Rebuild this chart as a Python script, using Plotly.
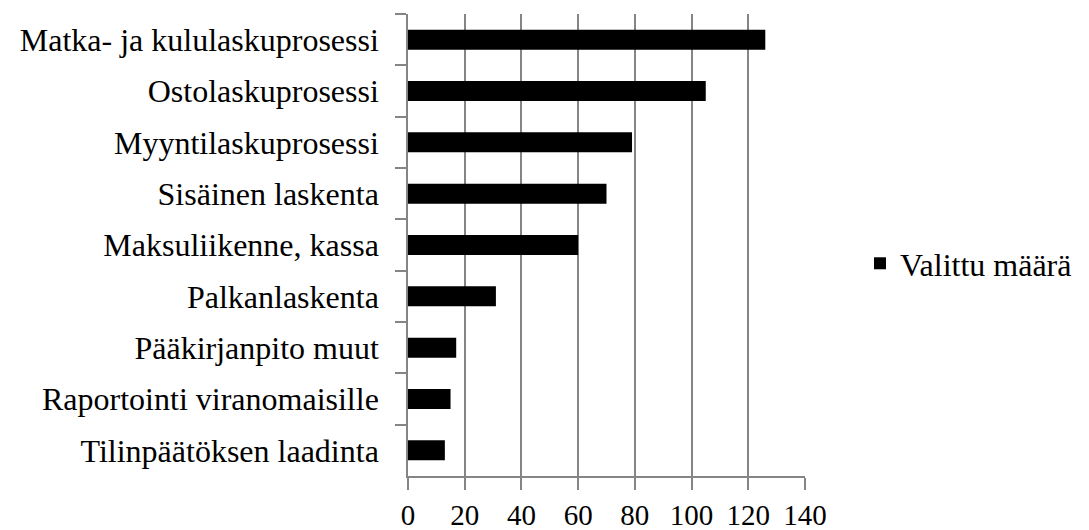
import plotly.graph_objects as go

# Process areas and how many times each was chosen
categories = [
    "Matka- ja kululaskuprosessi",
    "Ostolaskuprosessi",
    "Myyntilaskuprosessi",
    "Sisäinen laskenta",
    "Maksuliikenne, kassa",
    "Palkanlaskenta",
    "Pääkirjanpito muut",
    "Raportointi viranomaisille",
    "Tilinpäätöksen laadinta",
]
counts = [126, 105, 79, 70, 60, 31, 17, 15, 13]
series_name = "Valittu määrä"
x_ticks = [0, 20, 40, 60, 80, 100, 120, 140]

FONT = "Liberation Serif"
GRID = "#858585"

fig = go.Figure(
    go.Bar(
        x=counts,
        y=categories,
        orientation="h",
        name=series_name,
        marker=dict(color="#000000", line=dict(width=0)),
        showlegend=True,
    )
)

fig.update_layout(
    width=1089,
    height=530,
    margin=dict(l=408, r=284, t=14, b=54, autoexpand=False),
    paper_bgcolor="white",
    plot_bgcolor="white",
    bargap=0.61,
    font=dict(family=FONT, size=32, color="#000000"),
    legend=dict(
        x=1.1385,
        xanchor="left",
        y=0.46,
        yanchor="middle",
        bgcolor="rgba(0,0,0,0)",
        borderwidth=0,
        font=dict(family=FONT, size=32, color="#000000"),
    ),
)

fig.update_xaxes(
    automargin=False,
    range=[0, 140],
    tickmode="array",
    tickvals=x_ticks,
    ticktext=[str(v) for v in x_ticks],
    showgrid=True,
    gridcolor=GRID,
    gridwidth=1.5,
    zeroline=False,
    showline=True,
    linecolor=GRID,
    linewidth=1.5,
    ticks="outside",
    ticklen=12,
    tickwidth=1.5,
    tickcolor=GRID,
    ticklabelstandoff=0,
    tickfont=dict(family=FONT, size=29, color="#000000"),
)

fig.update_yaxes(
    automargin=False,
    categoryorder="array",
    categoryarray=categories,
    autorange="reversed",
    showgrid=False,
    zeroline=False,
    showline=True,
    linecolor=GRID,
    linewidth=1.5,
    ticks="outside",
    tickson="boundaries",
    ticklen=11,
    tickwidth=1.5,
    tickcolor=GRID,
    ticklabelstandoff=21,
    tickfont=dict(family=FONT, size=32, color="#000000"),
)

fig.write_html("out.html")
